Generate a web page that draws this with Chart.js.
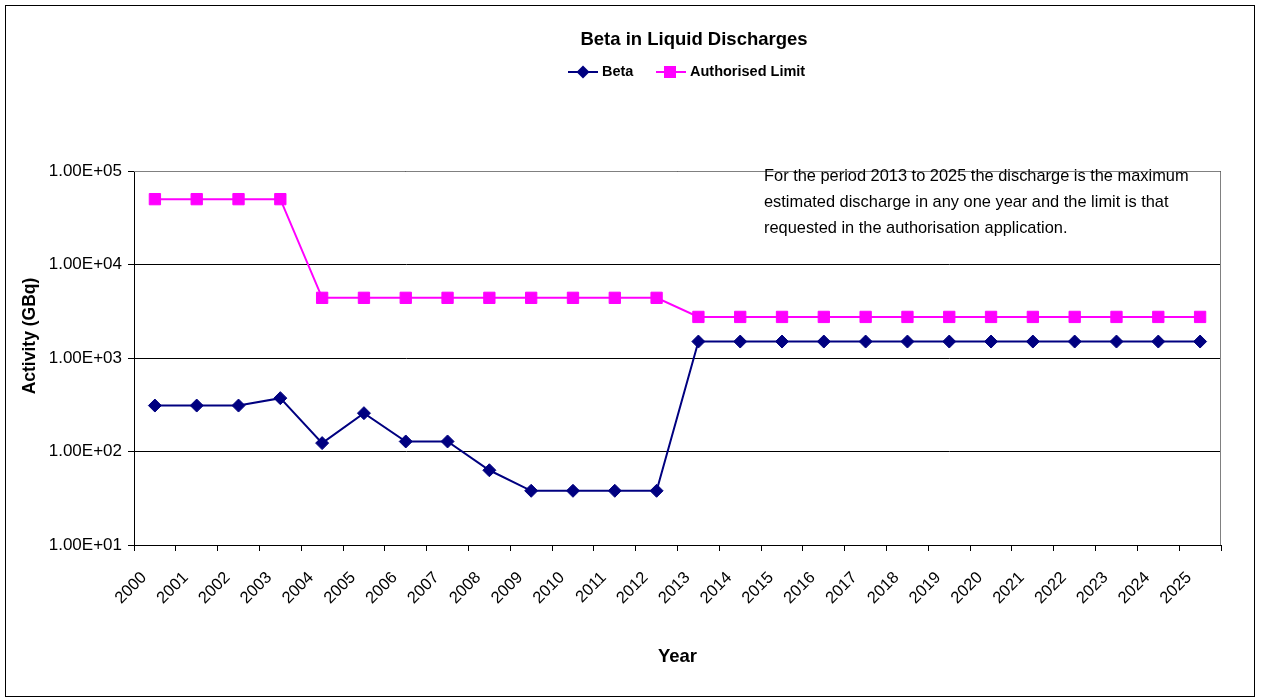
<!DOCTYPE html>
<html>
<head>
<meta charset="utf-8">
<title>Beta in Liquid Discharges</title>
<script src="https://cdn.jsdelivr.net/npm/chart.js@4.4.0/dist/chart.umd.min.js"></script>
<style>
  body { margin: 0; background: #fff; }
  #wrap { position: relative; width: 1261px; height: 700px; }
  #frame { position: absolute; left: 5px; top: 5px; width: 1248px; height: 690px; border: 1px solid #000; pointer-events: none; }
</style>
</head>
<body>
<div id="wrap">
  <canvas id="beta-chart" width="1261" height="700"></canvas>
  <div id="frame"></div>
</div>
<script>
const years = ["2000", "2001", "2002", "2003", "2004", "2005", "2006", "2007", "2008", "2009",
  "2010", "2011", "2012", "2013", "2014", "2015", "2016", "2017", "2018", "2019",
  "2020", "2021", "2022", "2023", "2024", "2025"];
const beta = [310, 310, 310, 372, 123, 257, 128, 128, 63, 38, 38, 38, 38,
  1500, 1500, 1500, 1500, 1500, 1500, 1500, 1500, 1500, 1500, 1500, 1500, 1500];
const authLimit = [50000, 50000, 50000, 50000, 4400, 4400, 4400, 4400, 4400, 4400, 4400, 4400, 4400,
  2750, 2750, 2750, 2750, 2750, 2750, 2750, 2750, 2750, 2750, 2750, 2750, 2750];
const yTicks = [10, 100, 1000, 10000, 100000];
const noteLines = [
  "For the period 2013 to 2025 the discharge is the maximum",
  "estimated discharge in any one year and the limit is that",
  "requested in the authorisation application."
];

const FONT = "'Liberation Sans', Arial, sans-serif";
const NAVY = "#000080";
const MAGENTA = "#FF00FF";

// 1.00E+05 style labels
function sciLabel(v) {
  const exp = Math.round(Math.log10(v));
  const mant = (v / Math.pow(10, exp)).toFixed(2);
  const sign = exp < 0 ? "-" : "+";
  return mant + "E" + sign + String(Math.abs(exp)).padStart(2, "0");
}

// title, legend, y title, note and the grey plot frame
const extras = {
  id: "extras",
  beforeDatasetsDraw(chart) {
    const { ctx, chartArea: a } = chart;
    ctx.save();
    ctx.strokeStyle = "#808080";
    ctx.lineWidth = 1;
    ctx.beginPath();
    ctx.moveTo(a.left, a.top + 0.5);
    ctx.lineTo(a.right - 0.5, a.top + 0.5);
    ctx.lineTo(a.right - 0.5, a.bottom);
    ctx.stroke();
    ctx.restore();
  },
  afterDraw(chart) {
    const { ctx } = chart;
    ctx.save();
    ctx.fillStyle = "#000";
    ctx.textBaseline = "middle";
    ctx.textAlign = "center";
    ctx.font = "bold 18.5px " + FONT;
    ctx.fillText("Beta in Liquid Discharges", 694, 40);

    // y axis title
    ctx.save();
    ctx.translate(30, 336);
    ctx.rotate(-Math.PI / 2);
    ctx.font = "bold 17.5px " + FONT;
    ctx.fillText("Activity (GBq)", 0, 0);
    ctx.restore();

    // legend
    ctx.font = "bold 14.5px " + FONT;
    ctx.textAlign = "left";
    const ly = 72;
    ctx.strokeStyle = NAVY;
    ctx.lineWidth = 2;
    ctx.beginPath(); ctx.moveTo(568, ly); ctx.lineTo(598, ly); ctx.stroke();
    ctx.fillStyle = NAVY;
    ctx.beginPath();
    ctx.moveTo(583, ly - 6.5); ctx.lineTo(589.5, ly); ctx.lineTo(583, ly + 6.5); ctx.lineTo(576.5, ly);
    ctx.closePath(); ctx.fill();
    ctx.fillStyle = "#000";
    ctx.fillText("Beta", 602, ly);

    ctx.strokeStyle = MAGENTA;
    ctx.beginPath(); ctx.moveTo(656, ly); ctx.lineTo(686, ly); ctx.stroke();
    ctx.fillStyle = MAGENTA;
    ctx.fillRect(664, ly - 6, 12, 12);
    ctx.fillStyle = "#000";
    ctx.fillText("Authorised Limit", 690, ly);

    // note
    ctx.font = "16.4px " + FONT;
    noteLines.forEach((t, i) => ctx.fillText(t, 764, 176 + i * 26));
    ctx.restore();
  }
};

const data_beta = {
  labels: years,
  datasets: [
    {
      label: "Beta",
      data: beta,
      borderColor: NAVY,
      backgroundColor: NAVY,
      borderWidth: 2,
      pointStyle: "rectRot",
      pointRadius: 6.5,
      pointBorderWidth: 1,
      tension: 0
    },
    {
      label: "Authorised Limit",
      data: authLimit,
      borderColor: MAGENTA,
      backgroundColor: MAGENTA,
      borderWidth: 2,
      pointStyle: "rect",
      pointRadius: 8,
      pointBorderWidth: 1,
      tension: 0
    }
  ]
};

const config_beta = {
  type: "line",
  data: data_beta,
  options: {
    responsive: false,
    animation: false,
    devicePixelRatio: 1,
    layout: { padding: { top: 171, right: 40, left: 0, bottom: 0 } },
    plugins: {
      legend: { display: false },
      title: { display: false },
      tooltip: { enabled: false }
    },
    scales: {
      x: {
        type: "category",
        offset: true,
        grid: { offset: true, drawOnChartArea: false, color: "#000", tickLength: 6, tickColor: "#000" },
        border: { color: "#000", width: 1 },
        ticks: {
          color: "#000",
          font: { family: FONT, size: 16.5 },
          minRotation: 45,
          maxRotation: 45,
          autoSkip: false,
          labelOffset: -11,
          padding: 17
        },
        title: {
          display: true,
          text: "Year",
          color: "#000",
          font: { family: FONT, size: 18.5, weight: "bold" },
          padding: { top: 0, bottom: 32 }
        },
        afterFit(scale) { scale.height = 155; }
      },
      y: {
        type: "logarithmic",
        min: 10,
        max: 100000,
        afterBuildTicks(scale) { scale.ticks = yTicks.map(v => ({ value: v })); },
        grid: { color: "#000", tickLength: 6, tickColor: "#000" },
        border: { color: "#000", width: 1 },
        ticks: {
          color: "#000",
          font: { family: FONT, size: 17 },
          padding: 6,
          callback: v => sciLabel(v)
        },
        afterFit(scale) { scale.width = 134; }
      }
    }
  },
  plugins: [extras]
};

var ctx_beta = document.getElementById("beta-chart").getContext("2d");
var myChart_beta = new Chart(ctx_beta, config_beta);
</script>
</body>
</html>
